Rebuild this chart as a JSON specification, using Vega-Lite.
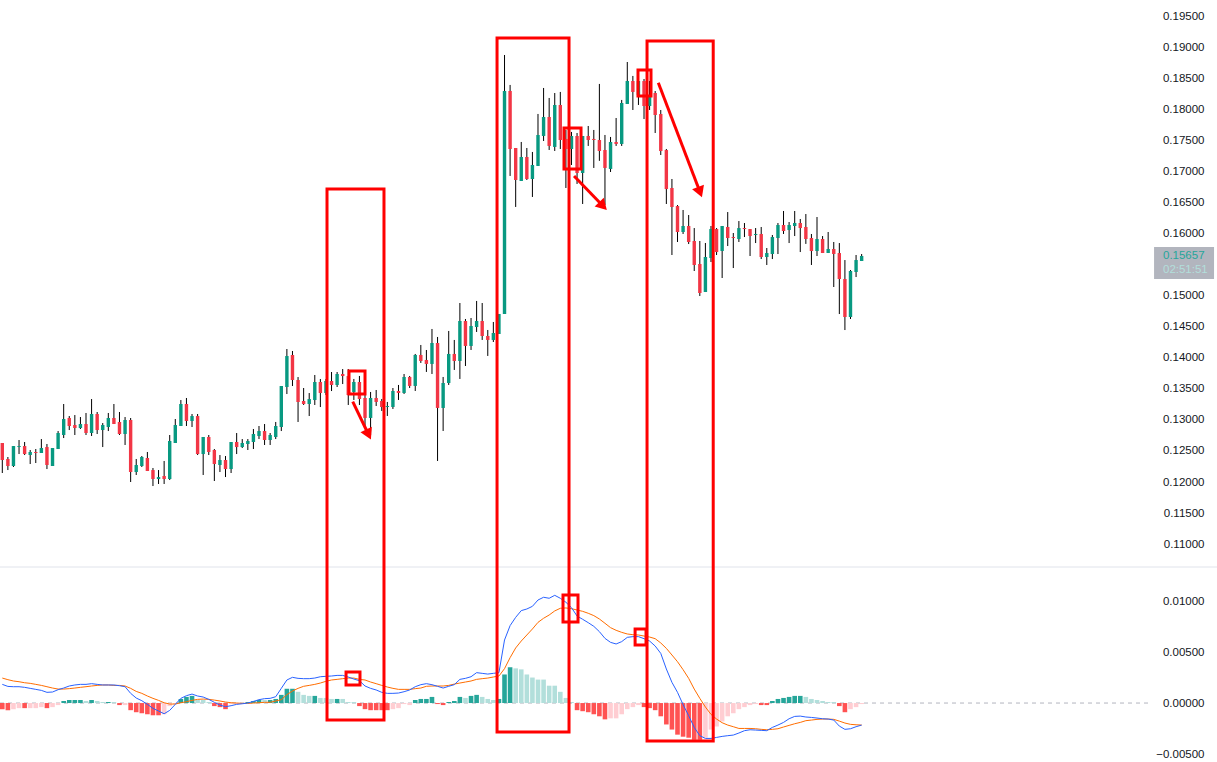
{
"$schema":"https://vega.github.io/schema/vega-lite/v6.json",
"width":1217,"height":762,"padding":0,"autosize":{"type":"none"},"background":"#ffffff",
"config":{"view":{"stroke":null},"axis":{"labelFont":"Liberation Sans","labelFontSize":11.5,"labelColor":"#131722","grid":false,"ticks":false,"domain":false,"title":null,"labelPadding":0,"labelOverlap":false}},
"datasets":{
"candles":[
{"i":0,"o":0.12629,"h":0.12629,"l":0.12145,"c":0.12355},{"i":1,"o":0.12371,"h":0.12403,"l":0.12193,"c":0.12258},{"i":2,"o":0.12258,"h":0.1258,"l":0.12242,"c":0.1258},{"i":3,"o":0.12564,"h":0.12677,"l":0.12451,"c":0.1258},{"i":4,"o":0.1258,"h":0.12645,"l":0.12435,"c":0.12451},
{"i":5,"o":0.12435,"h":0.12516,"l":0.1229,"c":0.12484},{"i":6,"o":0.12484,"h":0.12532,"l":0.12306,"c":0.12468},{"i":7,"o":0.12468,"h":0.12693,"l":0.12468,"c":0.12548},{"i":8,"o":0.12564,"h":0.12613,"l":0.12209,"c":0.12274},{"i":9,"o":0.12258,"h":0.12548,"l":0.12258,"c":0.12548},
{"i":10,"o":0.12532,"h":0.12822,"l":0.12532,"c":0.1279},{"i":11,"o":0.12758,"h":0.13258,"l":0.12709,"c":0.13016},{"i":12,"o":0.13032,"h":0.13064,"l":0.12838,"c":0.12903},{"i":13,"o":0.12919,"h":0.1308,"l":0.12758,"c":0.12871},{"i":14,"o":0.12871,"h":0.13048,"l":0.12855,"c":0.12935},
{"i":15,"o":0.12935,"h":0.13113,"l":0.12758,"c":0.1279},{"i":16,"o":0.1279,"h":0.13338,"l":0.12742,"c":0.13097},{"i":17,"o":0.13097,"h":0.13129,"l":0.12774,"c":0.12838},{"i":18,"o":0.12838,"h":0.12951,"l":0.12564,"c":0.12919},{"i":19,"o":0.12887,"h":0.13113,"l":0.12822,"c":0.13032},
{"i":20,"o":0.13032,"h":0.13258,"l":0.12935,"c":0.12935},{"i":21,"o":0.12968,"h":0.13129,"l":0.12758,"c":0.12774},{"i":22,"o":0.12774,"h":0.13048,"l":0.12597,"c":0.13},{"i":23,"o":0.13,"h":0.13032,"l":0.12,"c":0.12161},{"i":24,"o":0.12161,"h":0.12371,"l":0.12113,"c":0.12274},
{"i":25,"o":0.12258,"h":0.12419,"l":0.12242,"c":0.12403},{"i":26,"o":0.12387,"h":0.12484,"l":0.12177,"c":0.12177},{"i":27,"o":0.12193,"h":0.12226,"l":0.11935,"c":0.12048},{"i":28,"o":0.12048,"h":0.12193,"l":0.11968,"c":0.1208},{"i":29,"o":0.12097,"h":0.12339,"l":0.11968,"c":0.12048},
{"i":30,"o":0.12048,"h":0.12758,"l":0.12032,"c":0.12661},{"i":31,"o":0.12629,"h":0.13016,"l":0.12629,"c":0.12919},{"i":32,"o":0.12903,"h":0.13322,"l":0.12903,"c":0.13258},{"i":33,"o":0.13258,"h":0.13355,"l":0.12903,"c":0.12984},{"i":34,"o":0.12984,"h":0.13097,"l":0.12887,"c":0.13064},
{"i":35,"o":0.13064,"h":0.13097,"l":0.12435,"c":0.12451},{"i":36,"o":0.12451,"h":0.12726,"l":0.12113,"c":0.12726},{"i":37,"o":0.12726,"h":0.12758,"l":0.12435,"c":0.12484},{"i":38,"o":0.12516,"h":0.12532,"l":0.12016,"c":0.1229},{"i":39,"o":0.12274,"h":0.12435,"l":0.12161,"c":0.12355},
{"i":40,"o":0.12355,"h":0.12419,"l":0.1208,"c":0.12209},{"i":41,"o":0.12209,"h":0.12645,"l":0.12145,"c":0.12645},{"i":42,"o":0.12645,"h":0.1279,"l":0.12451,"c":0.12564},{"i":43,"o":0.12564,"h":0.12693,"l":0.12548,"c":0.12629},{"i":44,"o":0.12613,"h":0.12693,"l":0.12516,"c":0.12661},
{"i":45,"o":0.12645,"h":0.12855,"l":0.12532,"c":0.12774},{"i":46,"o":0.12742,"h":0.12903,"l":0.12693,"c":0.12822},{"i":47,"o":0.12822,"h":0.12935,"l":0.12597,"c":0.12677},{"i":48,"o":0.12677,"h":0.1279,"l":0.12597,"c":0.12758},{"i":49,"o":0.12726,"h":0.12968,"l":0.12693,"c":0.12903},
{"i":50,"o":0.12887,"h":0.13548,"l":0.12822,"c":0.13548},{"i":51,"o":0.13532,"h":0.14145,"l":0.13419,"c":0.14032},{"i":52,"o":0.14048,"h":0.14113,"l":0.13548,"c":0.13645},{"i":53,"o":0.13645,"h":0.13693,"l":0.12968,"c":0.1329},{"i":54,"o":0.13306,"h":0.13516,"l":0.13242,"c":0.13258},
{"i":55,"o":0.13258,"h":0.13435,"l":0.13064,"c":0.13338},{"i":56,"o":0.13322,"h":0.13726,"l":0.13242,"c":0.13613},{"i":57,"o":0.13613,"h":0.13661,"l":0.13209,"c":0.13435},{"i":58,"o":0.13435,"h":0.13661,"l":0.13403,"c":0.13629},{"i":59,"o":0.13629,"h":0.13774,"l":0.13467,"c":0.13564},
{"i":60,"o":0.13564,"h":0.13774,"l":0.13532,"c":0.13742},{"i":61,"o":0.13742,"h":0.13822,"l":0.1358,"c":0.13709},{"i":62,"o":0.13709,"h":0.13822,"l":0.13242,"c":0.13403},{"i":63,"o":0.13452,"h":0.13662,"l":0.13323,"c":0.13613},{"i":64,"o":0.13613,"h":0.1371,"l":0.13242,"c":0.13339},
{"i":65,"o":0.13355,"h":0.13452,"l":0.12887,"c":0.13033},{"i":66,"o":0.13033,"h":0.13452,"l":0.12758,"c":0.13355},{"i":67,"o":0.13355,"h":0.13484,"l":0.13226,"c":0.13291},{"i":68,"o":0.13307,"h":0.13339,"l":0.13146,"c":0.1321},{"i":69,"o":0.1321,"h":0.13291,"l":0.13065,"c":0.13226},
{"i":70,"o":0.1321,"h":0.13516,"l":0.13178,"c":0.13468},{"i":71,"o":0.13468,"h":0.13565,"l":0.13323,"c":0.13436},{"i":72,"o":0.13436,"h":0.13742,"l":0.1342,"c":0.13694},{"i":73,"o":0.13694,"h":0.1371,"l":0.13516,"c":0.13549},{"i":74,"o":0.13549,"h":0.14065,"l":0.13468,"c":0.14049},
{"i":75,"o":0.14049,"h":0.1421,"l":0.1392,"c":0.13952},{"i":76,"o":0.13968,"h":0.14129,"l":0.13775,"c":0.13904},{"i":77,"o":0.13904,"h":0.14468,"l":0.13742,"c":0.14242},{"i":78,"o":0.14242,"h":0.14339,"l":0.12339,"c":0.13194},{"i":79,"o":0.13194,"h":0.13694,"l":0.12823,"c":0.13597},
{"i":80,"o":0.13597,"h":0.14436,"l":0.13565,"c":0.14065},{"i":81,"o":0.14065,"h":0.14291,"l":0.13807,"c":0.13952},{"i":82,"o":0.13952,"h":0.14887,"l":0.13662,"c":0.14597},{"i":83,"o":0.14597,"h":0.14629,"l":0.13871,"c":0.14194},{"i":84,"o":0.14194,"h":0.14645,"l":0.14129,"c":0.14516},
{"i":85,"o":0.145,"h":0.1492,"l":0.1442,"c":0.14597},{"i":86,"o":0.14597,"h":0.14887,"l":0.14291,"c":0.14355},{"i":87,"o":0.14355,"h":0.14452,"l":0.14033,"c":0.14291},{"i":88,"o":0.14291,"h":0.14581,"l":0.14258,"c":0.14403},{"i":89,"o":0.14387,"h":0.1471,"l":0.14387,"c":0.1471},
{"i":90,"o":0.1471,"h":0.18887,"l":0.1471,"c":0.18307},{"i":91,"o":0.18307,"h":0.18404,"l":0.16936,"c":0.17371},{"i":92,"o":0.17387,"h":0.17387,"l":0.16436,"c":0.16871},{"i":93,"o":0.16855,"h":0.17484,"l":0.16855,"c":0.17242},{"i":94,"o":0.17242,"h":0.17387,"l":0.16871,"c":0.16887},
{"i":95,"o":0.16887,"h":0.17323,"l":0.16597,"c":0.17113},{"i":96,"o":0.17097,"h":0.17936,"l":0.17097,"c":0.17597},{"i":97,"o":0.17581,"h":0.18355,"l":0.175,"c":0.17887},{"i":98,"o":0.17887,"h":0.18194,"l":0.17355,"c":0.1742},{"i":99,"o":0.17404,"h":0.18274,"l":0.17339,"c":0.18081},
{"i":100,"o":0.18081,"h":0.18291,"l":0.17371,"c":0.17516},{"i":101,"o":0.17533,"h":0.17678,"l":0.16742,"c":0.17371},{"i":102,"o":0.17371,"h":0.17646,"l":0.17113,"c":0.17581},{"i":103,"o":0.17581,"h":0.17629,"l":0.16807,"c":0.16984},{"i":104,"o":0.16984,"h":0.17581,"l":0.16484,"c":0.17581},
{"i":105,"o":0.17581,"h":0.17742,"l":0.1742,"c":0.17516},{"i":106,"o":0.17533,"h":0.17678,"l":0.17065,"c":0.17516},{"i":107,"o":0.17516,"h":0.1842,"l":0.1718,"c":0.17339},{"i":108,"o":0.17355,"h":0.17597,"l":0.16468,"c":0.17065},{"i":109,"o":0.17049,"h":0.17565,"l":0.17,"c":0.17484},
{"i":110,"o":0.17484,"h":0.17871,"l":0.1742,"c":0.17452},{"i":111,"o":0.17452,"h":0.18162,"l":0.1742,"c":0.18113},{"i":112,"o":0.18097,"h":0.18774,"l":0.18097,"c":0.18468},{"i":113,"o":0.18468,"h":0.18549,"l":0.18,"c":0.18291},{"i":114,"o":0.18242,"h":0.18645,"l":0.18081,"c":0.18468},
{"i":115,"o":0.18467,"h":0.185,"l":0.17854,"c":0.18064},{"i":116,"o":0.18064,"h":0.18468,"l":0.18,"c":0.18209},{"i":117,"o":0.18274,"h":0.18306,"l":0.17629,"c":0.17919},{"i":118,"o":0.17935,"h":0.18,"l":0.17274,"c":0.17338},{"i":119,"o":0.17354,"h":0.17371,"l":0.16484,"c":0.16725},
{"i":120,"o":0.16742,"h":0.16887,"l":0.15661,"c":0.16435},{"i":121,"o":0.16451,"h":0.16467,"l":0.15871,"c":0.16032},{"i":122,"o":0.16032,"h":0.16387,"l":0.16,"c":0.16129},{"i":123,"o":0.16129,"h":0.16306,"l":0.15838,"c":0.15871},{"i":124,"o":0.15887,"h":0.16096,"l":0.15403,"c":0.155},
{"i":125,"o":0.15516,"h":0.15887,"l":0.15,"c":0.15048},{"i":126,"o":0.15064,"h":0.15855,"l":0.15064,"c":0.15629},{"i":127,"o":0.15613,"h":0.16129,"l":0.15548,"c":0.1608},{"i":128,"o":0.1608,"h":0.16096,"l":0.15661,"c":0.15709},{"i":129,"o":0.15726,"h":0.16129,"l":0.1529,"c":0.16129},
{"i":130,"o":0.16113,"h":0.16354,"l":0.15806,"c":0.15935},{"i":131,"o":0.15951,"h":0.16016,"l":0.15451,"c":0.15935},{"i":132,"o":0.15919,"h":0.16209,"l":0.15871,"c":0.16096},{"i":133,"o":0.16096,"h":0.16177,"l":0.15951,"c":0.1608},{"i":134,"o":0.1608,"h":0.1608,"l":0.15645,"c":0.15967},
{"i":135,"o":0.15984,"h":0.16096,"l":0.15854,"c":0.16},{"i":136,"o":0.16,"h":0.16113,"l":0.15596,"c":0.15629},{"i":137,"o":0.15629,"h":0.15774,"l":0.155,"c":0.15693},{"i":138,"o":0.15677,"h":0.15984,"l":0.15596,"c":0.15951},{"i":139,"o":0.15935,"h":0.16177,"l":0.15677,"c":0.16145},
{"i":140,"o":0.16145,"h":0.16371,"l":0.16,"c":0.16048},{"i":141,"o":0.16064,"h":0.16193,"l":0.15854,"c":0.16145},{"i":142,"o":0.16129,"h":0.16371,"l":0.15967,"c":0.16177},{"i":143,"o":0.16177,"h":0.16242,"l":0.15709,"c":0.16096},{"i":144,"o":0.16113,"h":0.16322,"l":0.1584,"c":0.15919},
{"i":145,"o":0.15935,"h":0.16,"l":0.155,"c":0.15725},{"i":146,"o":0.15725,"h":0.16274,"l":0.15645,"c":0.15919},{"i":147,"o":0.15919,"h":0.15967,"l":0.15693,"c":0.15693},{"i":148,"o":0.15693,"h":0.16032,"l":0.15693,"c":0.15758},{"i":149,"o":0.15758,"h":0.15871,"l":0.15145,"c":0.15677},
{"i":150,"o":0.15693,"h":0.15854,"l":0.14709,"c":0.15274},{"i":151,"o":0.15274,"h":0.1558,"l":0.14451,"c":0.14661},{"i":152,"o":0.14661,"h":0.15419,"l":0.14629,"c":0.15403},{"i":153,"o":0.15387,"h":0.15661,"l":0.15306,"c":0.1558},{"i":154,"o":0.15564,"h":0.15677,"l":0.15564,"c":0.15645}
],
"macd":[
{"i":0,"m":0.00183,"s":0.00245,"v":-0.0006,"k":"dn"},{"i":1,"m":0.00163,"s":0.00229,"v":-0.0007,"k":"dn"},{"i":2,"m":0.0016,"s":0.00216,"v":-0.0006,"k":"dn2"},{"i":3,"m":0.0016,"s":0.00209,"v":-0.0005,"k":"dn2"},{"i":4,"m":0.00154,"s":0.00199,"v":-0.0005,"k":"dn"},
{"i":5,"m":0.00144,"s":0.00193,"v":-0.0005,"k":"dn2"},{"i":6,"m":0.00134,"s":0.00183,"v":-0.0005,"k":"dn2"},{"i":7,"m":0.00124,"s":0.00173,"v":-0.0004,"k":"dn2"},{"i":8,"m":0.00105,"s":0.0016,"v":-0.0005,"k":"dn"},{"i":9,"m":0.00108,"s":0.00147,"v":-0.0004,"k":"dn2"},
{"i":10,"m":0.00131,"s":0.00137,"v":-0.0002,"k":"dn2"},{"i":11,"m":0.00147,"s":0.00137,"v":0.0002,"k":"up"},{"i":12,"m":0.00167,"s":0.00141,"v":0.0003,"k":"up"},{"i":13,"m":0.00177,"s":0.00147,"v":0.0003,"k":"up"},{"i":14,"m":0.00183,"s":0.00154,"v":0.0003,"k":"up"},
{"i":15,"m":0.00183,"s":0.0016,"v":0.0002,"k":"up2"},{"i":16,"m":0.0019,"s":0.00167,"v":0.0003,"k":"up"},{"i":17,"m":0.00183,"s":0.00173,"v":0.0002,"k":"up2"},{"i":18,"m":0.00177,"s":0.00177,"v":0.0001,"k":"up2"},{"i":19,"m":0.00177,"s":0.00177,"v":0.0001,"k":"up"},
{"i":20,"m":0.00177,"s":0.00173,"v":0.0001,"k":"up2"},{"i":21,"m":0.0017,"s":0.00173,"v":-0.0002,"k":"dn"},{"i":22,"m":0.0016,"s":0.00167,"v":-0.0002,"k":"dn2"},{"i":23,"m":0.00095,"s":0.00144,"v":-0.0007,"k":"dn"},{"i":24,"m":0.00049,"s":0.00114,"v":-0.0009,"k":"dn"},
{"i":25,"m":0.00023,"s":0.00095,"v":-0.001,"k":"dn"},{"i":26,"m":-0.00013,"s":0.00069,"v":-0.0011,"k":"dn"},{"i":27,"m":-0.00052,"s":0.00046,"v":-0.0012,"k":"dn"},{"i":28,"m":-0.00078,"s":0.00026,"v":-0.0012,"k":"dn"},{"i":29,"m":-0.00105,"s":0.00003,"v":-0.0011,"k":"dn2"},
{"i":30,"m":-0.00072,"s":-0.0001,"v":-0.0003,"k":"dn2"},{"i":31,"m":-0.00013,"s":-0.0001,"v":-0.0001,"k":"dn2"},{"i":32,"m":0.00046,"s":0.00003,"v":0.0004,"k":"up"},{"i":33,"m":0.00072,"s":0.00013,"v":0.0006,"k":"up"},{"i":34,"m":0.00088,"s":0.00026,"v":0.0007,"k":"up"},
{"i":35,"m":0.00069,"s":0.00036,"v":0.0003,"k":"up2"},{"i":36,"m":0.00059,"s":0.00039,"v":0.0003,"k":"up2"},{"i":37,"m":0.00036,"s":0.00036,"v":0.0001,"k":"up2"},{"i":38,"m":0.00007,"s":0.00029,"v":-0.0003,"k":"dn"},{"i":39,"m":-0.0002,"s":0.0002,"v":-0.0004,"k":"dn"},
{"i":40,"m":-0.00036,"s":0.0001,"v":-0.0006,"k":"dn"},{"i":41,"m":-0.00026,"s":0.00003,"v":-0.0001,"k":"dn2"},{"i":42,"m":-0.00013,"s":0,"v":-0.0001,"k":"dn2"},{"i":43,"m":-0.00007,"s":-0.00003,"v":-0.00003,"k":"dn2"},{"i":44,"m":0,"s":-0.00003,"v":0.0001,"k":"up"},
{"i":45,"m":0.00016,"s":0,"v":0.0002,"k":"up"},{"i":46,"m":0.00033,"s":0.00003,"v":0.0003,"k":"up"},{"i":47,"m":0.00043,"s":0.00007,"v":0.0003,"k":"up2"},{"i":48,"m":0.00046,"s":0.00007,"v":0.0003,"k":"up"},{"i":49,"m":0.00062,"s":0.0002,"v":0.0004,"k":"up"},
{"i":50,"m":0.00144,"s":0.00033,"v":0.0008,"k":"up"},{"i":51,"m":0.00226,"s":0.00082,"v":0.0014,"k":"up"},{"i":52,"m":0.00252,"s":0.00118,"v":0.0014,"k":"up"},{"i":53,"m":0.00242,"s":0.00144,"v":0.0011,"k":"up2"},{"i":54,"m":0.00239,"s":0.00164,"v":0.0008,"k":"up2"},
{"i":55,"m":0.00239,"s":0.00173,"v":0.0007,"k":"up2"},{"i":56,"m":0.00245,"s":0.00183,"v":0.0007,"k":"up"},{"i":57,"m":0.00258,"s":0.00196,"v":0.0005,"k":"up2"},{"i":58,"m":0.00262,"s":0.00213,"v":0.0005,"k":"up2"},{"i":59,"m":0.00265,"s":0.00226,"v":0.0004,"k":"up2"},
{"i":60,"m":0.00271,"s":0.00232,"v":0.0004,"k":"up"},{"i":61,"m":0.00271,"s":0.00239,"v":0.0004,"k":"up2"},{"i":62,"m":0.00255,"s":0.00245,"v":0.0001,"k":"up2"},{"i":63,"m":0.00235,"s":0.00245,"v":0.0001,"k":"up2"},{"i":64,"m":0.00219,"s":0.00232,"v":-0.0003,"k":"dn"},
{"i":65,"m":0.00167,"s":0.00226,"v":-0.0006,"k":"dn"},{"i":66,"m":0.00144,"s":0.00206,"v":-0.0007,"k":"dn"},{"i":67,"m":0.00128,"s":0.0019,"v":-0.0007,"k":"dn"},{"i":68,"m":0.00105,"s":0.00173,"v":-0.0007,"k":"dn"},{"i":69,"m":0.00095,"s":0.00157,"v":-0.0007,"k":"dn"},
{"i":70,"m":0.00095,"s":0.00144,"v":-0.0006,"k":"dn2"},{"i":71,"m":0.00098,"s":0.00134,"v":-0.0005,"k":"dn2"},{"i":72,"m":0.00111,"s":0.00134,"v":-0.0001,"k":"dn2"},{"i":73,"m":0.00128,"s":0.00134,"v":-0.0002,"k":"dn2"},{"i":74,"m":0.0016,"s":0.00141,"v":0.0003,"k":"up"},
{"i":75,"m":0.0018,"s":0.00147,"v":0.0004,"k":"up"},{"i":76,"m":0.0019,"s":0.00164,"v":0.0004,"k":"up"},{"i":77,"m":0.0018,"s":0.00167,"v":0.0006,"k":"up"},{"i":78,"m":0.00164,"s":0.00167,"v":-0.0001,"k":"dn"},{"i":79,"m":0.00147,"s":0.00167,"v":-0.0002,"k":"dn"},
{"i":80,"m":0.00164,"s":0.00173,"v":0.0001,"k":"up"},{"i":81,"m":0.0018,"s":0.00186,"v":0.0002,"k":"up"},{"i":82,"m":0.00232,"s":0.00196,"v":0.0006,"k":"up"},{"i":83,"m":0.00242,"s":0.00206,"v":0.0005,"k":"up2"},{"i":84,"m":0.00258,"s":0.00216,"v":0.0007,"k":"up"},
{"i":85,"m":0.00298,"s":0.00232,"v":0.0008,"k":"up"},{"i":86,"m":0.00291,"s":0.00239,"v":0.0006,"k":"up2"},{"i":87,"m":0.00284,"s":0.00245,"v":0.0004,"k":"up2"},{"i":88,"m":0.00291,"s":0.00255,"v":0.0003,"k":"up2"},{"i":89,"m":0.00298,"s":0.00265,"v":0.0004,"k":"up"},
{"i":90,"m":0.00618,"s":0.00337,"v":0.0028,"k":"up"},{"i":91,"m":0.00759,"s":0.00445,"v":0.0035,"k":"up"},{"i":92,"m":0.0084,"s":0.0054,"v":0.0034,"k":"up2"},{"i":93,"m":0.00906,"s":0.00608,"v":0.0033,"k":"up2"},{"i":94,"m":0.00922,"s":0.00667,"v":0.0028,"k":"up2"},
{"i":95,"m":0.00948,"s":0.00726,"v":0.0025,"k":"up2"},{"i":96,"m":0.0101,"s":0.00791,"v":0.0023,"k":"up2"},{"i":97,"m":0.01037,"s":0.00831,"v":0.0023,"k":"up2"},{"i":98,"m":0.01027,"s":0.00863,"v":0.0017,"k":"up2"},{"i":99,"m":0.01056,"s":0.00903,"v":0.0017,"k":"up2"},
{"i":100,"m":0.01027,"s":0.00929,"v":0.0011,"k":"up2"},{"i":101,"m":0.00988,"s":0.00932,"v":0.0005,"k":"up2"},{"i":102,"m":0.00935,"s":0.00925,"v":0.0001,"k":"up2"},{"i":103,"m":0.00853,"s":0.00912,"v":-0.0007,"k":"dn"},{"i":104,"m":0.00821,"s":0.00899,"v":-0.0008,"k":"dn"},
{"i":105,"m":0.00788,"s":0.0088,"v":-0.0009,"k":"dn"},{"i":106,"m":0.00752,"s":0.00857,"v":-0.0011,"k":"dn"},{"i":107,"m":0.007,"s":0.00824,"v":-0.0013,"k":"dn"},{"i":108,"m":0.00634,"s":0.00782,"v":-0.0016,"k":"dn"},{"i":109,"m":0.00595,"s":0.00739,"v":-0.0015,"k":"dn2"},
{"i":110,"m":0.00579,"s":0.00713,"v":-0.0015,"k":"dn2"},{"i":111,"m":0.00602,"s":0.00693,"v":-0.0011,"k":"dn2"},{"i":112,"m":0.00644,"s":0.00677,"v":-0.0006,"k":"dn2"},{"i":113,"m":0.00651,"s":0.0067,"v":-0.0004,"k":"dn2"},{"i":114,"m":0.00651,"s":0.00667,"v":-0.0002,"k":"dn2"},
{"i":115,"m":0.00631,"s":0.00657,"v":-0.0004,"k":"dn"},{"i":116,"m":0.00608,"s":0.00647,"v":-0.0005,"k":"dn"},{"i":117,"m":0.00559,"s":0.00631,"v":-0.0007,"k":"dn"},{"i":118,"m":0.00487,"s":0.00589,"v":-0.0013,"k":"dn"},{"i":119,"m":0.00334,"s":0.00536,"v":-0.0021,"k":"dn"},
{"i":120,"m":0.00203,"s":0.00471,"v":-0.0026,"k":"dn"},{"i":121,"m":0.00105,"s":0.00405,"v":-0.0031,"k":"dn"},{"i":122,"m":-0.00016,"s":0.00327,"v":-0.0033,"k":"dn"},{"i":123,"m":-0.00124,"s":0.00242,"v":-0.0034,"k":"dn"},{"i":124,"m":-0.00239,"s":0.00137,"v":-0.0036,"k":"dn"},
{"i":125,"m":-0.0032,"s":0.00046,"v":-0.0036,"k":"dn"},{"i":126,"m":-0.00347,"s":-0.00039,"v":-0.0034,"k":"dn2"},{"i":127,"m":-0.00347,"s":-0.00111,"v":-0.0026,"k":"dn2"},{"i":128,"m":-0.00337,"s":-0.00157,"v":-0.0023,"k":"dn2"},{"i":129,"m":-0.00327,"s":-0.00193,"v":-0.0018,"k":"dn2"},
{"i":130,"m":-0.0032,"s":-0.00216,"v":-0.0013,"k":"dn2"},{"i":131,"m":-0.00314,"s":-0.00232,"v":-0.001,"k":"dn2"},{"i":132,"m":-0.00294,"s":-0.00249,"v":-0.0006,"k":"dn2"},{"i":133,"m":-0.00271,"s":-0.00249,"v":-0.0004,"k":"dn2"},{"i":134,"m":-0.00262,"s":-0.00249,"v":-0.0002,"k":"dn2"},
{"i":135,"m":-0.00265,"s":-0.00252,"v":-0.0001,"k":"dn2"},{"i":136,"m":-0.00268,"s":-0.00258,"v":-0.0002,"k":"dn"},{"i":137,"m":-0.00271,"s":-0.00262,"v":-0.0002,"k":"dn"},{"i":138,"m":-0.00239,"s":-0.00258,"v":0.0002,"k":"up"},{"i":139,"m":-0.00216,"s":-0.00252,"v":0.0004,"k":"up"},
{"i":140,"m":-0.0019,"s":-0.00235,"v":0.0005,"k":"up"},{"i":141,"m":-0.00154,"s":-0.00219,"v":0.0006,"k":"up"},{"i":142,"m":-0.00131,"s":-0.00203,"v":0.0007,"k":"up"},{"i":143,"m":-0.00128,"s":-0.0019,"v":0.0007,"k":"up"},{"i":144,"m":-0.00137,"s":-0.00173,"v":0.0006,"k":"up2"},
{"i":145,"m":-0.00141,"s":-0.00167,"v":0.0004,"k":"up2"},{"i":146,"m":-0.00147,"s":-0.0016,"v":0.0003,"k":"up2"},{"i":147,"m":-0.00154,"s":-0.00157,"v":0.0002,"k":"up2"},{"i":148,"m":-0.00157,"s":-0.00157,"v":0.0001,"k":"up2"},{"i":149,"m":-0.00167,"s":-0.0016,"v":0.0001,"k":"up2"},
{"i":150,"m":-0.00226,"s":-0.00177,"v":-0.0003,"k":"dn"},{"i":151,"m":-0.00258,"s":-0.00196,"v":-0.0009,"k":"dn"},{"i":152,"m":-0.00252,"s":-0.00209,"v":-0.0006,"k":"dn2"},{"i":153,"m":-0.00232,"s":-0.00213,"v":-0.0004,"k":"dn2"},{"i":154,"m":-0.00216,"s":-0.00216,"v":-0.0001,"k":"dn2"}
],
"boxes":[
{"i":58.19,"i2":68.4,"p":0.16726,"p2":0.08161},
{"i":88.66,"i2":101.56,"p":0.19161,"p2":0.07968},
{"i":115.54,"i2":127.4,"p":0.19113,"p2":0.07822},
{"i":62.13,"i2":65,"p":0.1379,"p2":0.13419},
{"i":100.66,"i2":103.71,"p":0.17709,"p2":0.17048},
{"i":113.92,"i2":116.25,"p":0.18645,"p2":0.18226},
{"i":61.6,"i2":64.1,"p":0.08935,"p2":0.08726},
{"i":100.48,"i2":103.17,"p":0.10177,"p2":0.09742},
{"i":113.4,"i2":115.36,"p":0.09629,"p2":0.0937}
],
"arrows":[
{"i":62.8,"p":0.13295,"i2":65.63,"p2":0.12766,"turn":154.5},
{"i":102.46,"p":0.16935,"i2":107.65,"p2":0.16451,"turn":136},
{"i":117.56,"p":0.1844,"i2":125.03,"p2":0.16677,"turn":159}
]
},
"encoding":{"x":{"field":"i","type":"quantitative","axis":null,"scale":{"domain":[-0.412,217.68],"nice":false,"zero":false,"padding":0}}},
"layer":[
{"data":{"values":[{"i":0,"v":0},{"i":0,"v":0.01},{"i":0,"v":-0.005}]},"mark":{"type":"point","opacity":0},
"encoding":{"y":{"field":"v","type":"quantitative","scale":{"domain":[-0.00578,0.06892],"nice":false,"zero":false},"axis":{"orient":"left","offset":-1204,"values":[-0.005,0,0.005,0.01],"format":".5f"}}}},
{"data":{"values":[{"i":-0.412,"i2":206,"v":0}]},"mark":{"type":"rule","color":"#b2b5be","strokeWidth":1,"strokeDash":[4,4]},
"encoding":{"x2":{"field":"i2"},"y":{"field":"v","type":"quantitative","axis":null,"scale":{"domain":[-0.00578,0.06892],"nice":false,"zero":false}}}},
{"data":{"name":"macd"},"mark":{"type":"bar","size":4.6},
"encoding":{"y":{"field":"v","type":"quantitative","axis":null,"scale":{"domain":[-0.00578,0.06892],"nice":false,"zero":false}},"y2":{"datum":0},
"color":{"field":"k","type":"nominal","legend":null,"scale":{"domain":["up","up2","dn","dn2"],"range":["#26a69a","#b2dfdb","#ff5252","#ffcdd2"]}}}},
{"data":{"name":"macd"},"mark":{"type":"line","color":"#ff6d00","strokeWidth":1},
"encoding":{"y":{"field":"s","type":"quantitative","axis":null,"scale":{"domain":[-0.00578,0.06892],"nice":false,"zero":false}}}},
{"data":{"name":"macd"},"mark":{"type":"line","color":"#2962ff","strokeWidth":1},
"encoding":{"y":{"field":"m","type":"quantitative","axis":null,"scale":{"domain":[-0.00578,0.06892],"nice":false,"zero":false}}}},
{"data":{"values":[{"i":-0.412,"i2":217.68,"p":0.10629}]},"mark":{"type":"rule","color":"#e0e3eb","strokeWidth":1},
"encoding":{"x2":{"field":"i2"},"y":{"field":"p","type":"quantitative","scale":{"domain":[0.07484,0.19774],"nice":false,"zero":false},"axis":{"orient":"left","offset":-1204,"values":[0.11,0.115,0.12,0.125,0.13,0.135,0.14,0.145,0.15,0.16,0.165,0.17,0.175,0.18,0.185,0.19,0.195],"format":".5f"}}}},
{"data":{"name":"candles"},"mark":{"type":"rule","color":"#000000","strokeWidth":1},
"encoding":{"y":{"field":"l","type":"quantitative","axis":null,"scale":{"domain":[0.07484,0.19774],"nice":false,"zero":false}},"y2":{"field":"h"}}},
{"data":{"name":"candles"},"mark":{"type":"bar","size":3.4},
"encoding":{"y":{"field":"o","type":"quantitative","axis":null,"scale":{"domain":[0.07484,0.19774],"nice":false,"zero":false}},"y2":{"field":"c"},
"color":{"condition":{"test":"datum.c < datum.o","value":"#f23645"},"value":"#089981"}}},
{"data":{"name":"boxes"},"mark":{"type":"rect","filled":false,"stroke":"#ff0000","strokeWidth":3},
"encoding":{"x2":{"field":"i2"},"y":{"field":"p","type":"quantitative","axis":null,"scale":{"domain":[0.07484,0.19774],"nice":false,"zero":false}},"y2":{"field":"p2"}}},
{"data":{"name":"arrows"},"mark":{"type":"rule","color":"#ff0000","strokeWidth":3},
"encoding":{"x2":{"field":"i2"},"y":{"field":"p","type":"quantitative","axis":null,"scale":{"domain":[0.07484,0.19774],"nice":false,"zero":false}},"y2":{"field":"p2"}}},
{"data":{"name":"arrows"},"mark":{"type":"point","shape":"triangle-up","filled":true,"size":160,"color":"#ff0000","opacity":1},
"encoding":{"x":{"field":"i2","type":"quantitative"},"y":{"field":"p2","type":"quantitative","axis":null,"scale":{"domain":[0.07484,0.19774],"nice":false,"zero":false}},"angle":{"field":"turn","type":"quantitative","scale":null}}},
{"data":{"values":[{"i":206.4,"i2":217.15,"p":0.1579,"p2":0.15274}]},"mark":{"type":"rect","color":"#b2b5be"},
"encoding":{"x2":{"field":"i2"},"y":{"field":"p","type":"quantitative","axis":null,"scale":{"domain":[0.07484,0.19774],"nice":false,"zero":false}},"y2":{"field":"p2"}}},
{"data":{"values":[{"i":208,"p":0.15645,"t":"0.15657","g":"a"},{"i":208,"p":0.15419,"t":"02:51:51","g":"b"}]},"mark":{"type":"text","align":"left","baseline":"middle","font":"Liberation Sans","fontSize":11.5},
"encoding":{"y":{"field":"p","type":"quantitative","axis":null,"scale":{"domain":[0.07484,0.19774],"nice":false,"zero":false}},"text":{"field":"t"},
"color":{"field":"g","type":"nominal","legend":null,"scale":{"domain":["a","b"],"range":["#131722","#50535e"]}}}}
],
"resolve":{"scale":{"y":"independent"}}
}
